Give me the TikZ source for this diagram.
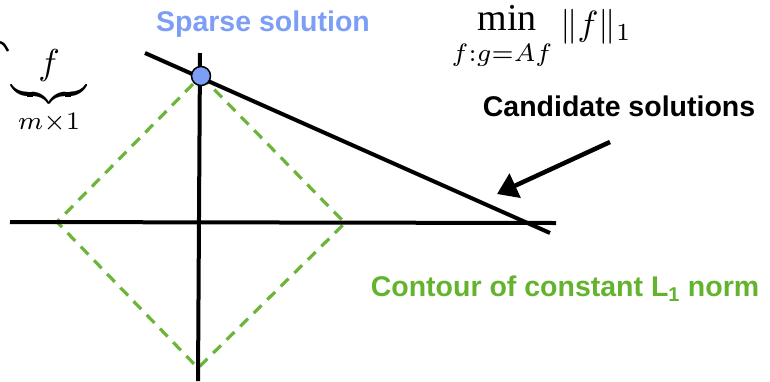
\documentclass[tikz,border=0pt]{standalone}
\usepackage{fontspec}
\usetikzlibrary{arrows.meta}
\newfontfamily\arialfont{Liberation Sans}
\newfontfamily\timesfont{Liberation Serif}
\definecolor{sparseblue}{RGB}{125,158,245}
\definecolor{normgreen}{RGB}{99,179,46}
\definecolor{dashgreen}{RGB}{108,180,58}
\tikzset{
  axisline/.style={line width=4pt,black},
  candline/.style={line width=4pt,black},
  contour/.style={line width=3.2pt,dashgreen,dash pattern=on 11pt off 8pt},
  labeltext/.style={font=\arialfont\bfseries\fontsize{28.5}{32}\selectfont,inner sep=0pt},
  mathtext/.style={inner sep=0pt},
}
\begin{document}
\begin{tikzpicture}[x=1pt,y=-1pt]
\useasboundingbox (0,0) rectangle (770,381);
% coordinates
\coordinate (hl) at (10,222);
\coordinate (hr) at (556,223);
\coordinate (vt) at (200,53);
\coordinate (vb) at (198,381);
\coordinate (cl) at (145,53);
\coordinate (cr) at (550,233);
\coordinate (dt) at (201,76);
\coordinate (dr) at (345,223);
\coordinate (db) at (198,368);
\coordinate (dl) at (57,222);
\coordinate (as) at (610,142);
\coordinate (at) at (497,194);
% contour
\draw[contour] (dt) -- (dr) -- (db) -- (dl) -- cycle;
% axes
\draw[axisline] (hl) -- (hr);
\draw[axisline] (vt) -- (vb);
% candidate line
\draw[candline] (cl) -- (cr);
% sparse point
\node[circle,draw=black,line width=1.5pt,fill=sparseblue,minimum size=19pt,inner sep=0pt] (pt) at (dt) {};
% arrow
\draw[line width=4.5pt,-{Triangle[length=20pt,width=26pt]}] (as) -- (at);
% labels
\node[labeltext,text=sparseblue] (sparse) at (263,24) {Sparse solution};
\node[labeltext,text=black] (cand) at (619,106) {Candidate solutions};
\node[labeltext,text=normgreen] (cont) at (565,289) {Contour of constant L\textsubscript{1} norm};
% math
\node[mathtext,anchor=base,font=\timesfont\fontsize{38}{42}\selectfont] (minop) at (507,30) {min};
\node[mathtext,anchor=base] (minsub) at (502,61) {\scalebox{3.6}{$\scriptstyle f:g=Af$}};
\node[mathtext,anchor=base west] (norm) at (560,35) {\scalebox{3.5}{$\|f\|_1$}};
% brace with f
\node[mathtext] (fbrace) at (49,93) {\scalebox{3.6}{$\underbrace{\makebox[21pt]{$f$}}_{m\times 1}$}};
% stray fragment
\draw[line width=2.5pt] (0,42) .. controls (4,44) .. (8,51);
\end{tikzpicture}
\end{document}
